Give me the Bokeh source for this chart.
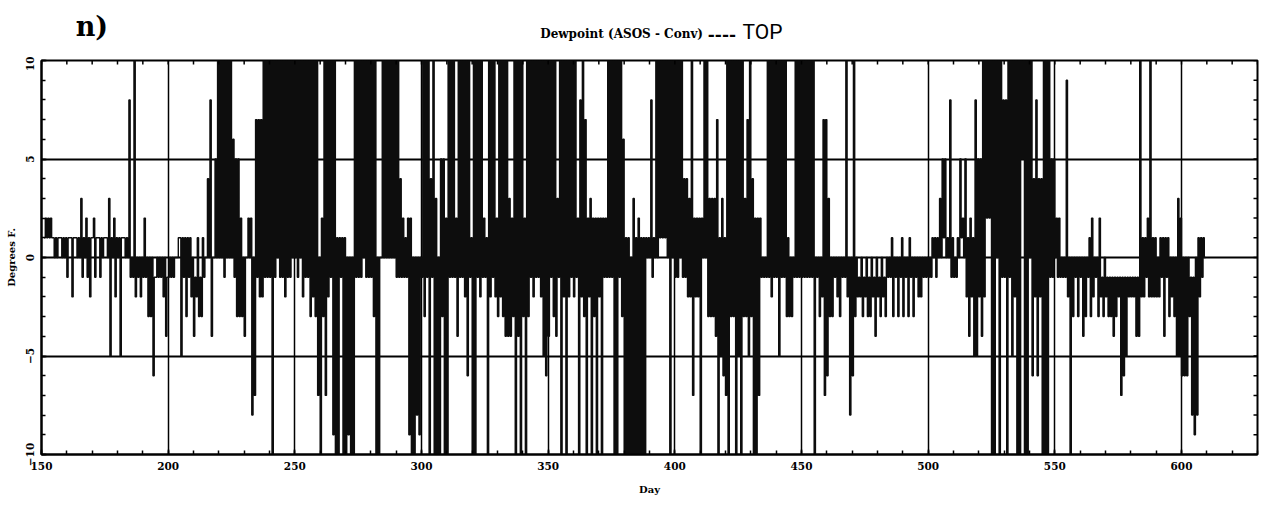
import numpy as np
from bokeh.plotting import figure
from bokeh.layouts import column
from bokeh.models import Range1d, SingleIntervalTicker, Label
from bokeh.embed import file_html
from bokeh.resources import INLINE

# ---- data: daily envelope (upper / lower) of ASOS - Conv dewpoint difference, deg F
first_day = 151
hi = [
    2, 2, 2, 1, 1, 1, 1, 1, 1, 1,
    1, 1, 1, 1, 3, 1, 2, 1, 1, 2,
    1, 1, 1, 1, 1, 3, 1, 2, 1, 1,
    1, 1, 1, 8, 0, 10, 0, 0, 0, 2,
    0, 0, 0, -1, 0, 0, 0, 0, -1, 0,
    0, 0, 0, 1, 1, 1, 1, 1, 0, -1,
    1, -1, 1, 0, 4, 8, 0, 5, 10, 10,
    10, 10, 10, 10, 6, 5, 5, 2, 0, 0,
    2, 2, 0, 7, 7, 7, 10, 10, 10, 10,
    10, 10, 10, 10, 10, 10, 10, 10, 10, 10,
    10, 10, 10, 10, 10, 10, 10, 10, 0, 2,
    10, 10, 10, 10, 10, 1, 1, 1, 1, 0,
    0, 0, 10, 10, 10, 10, 10, 10, 10, 10,
    10, 0, 0, 10, 10, 10, 10, 10, 10, 10,
    4, 2, 1, 2, 2, 0, 0, 0, 0, 10,
    10, 10, 4, 10, 3, 0, 5, 5, 2, 10,
    10, 10, 2, 10, 10, 10, 10, 10, 1, 10,
    10, 10, 10, 2, 1, 10, 10, 10, 2, 10,
    10, 10, 10, 3, 2, 10, 10, 10, 10, 2,
    10, 10, 10, 10, 10, 10, 10, 10, 10, 10,
    10, 10, 3, 10, 10, 10, 10, 10, 10, 10,
    2, 8, 10, 7, 2, 3, 2, 2, 2, 2,
    2, 2, 10, 10, 10, 10, 10, 10, 6, 1,
    1, 0, 3, 1, 2, 1, 1, 1, 1, 8,
    1, 10, 10, 10, 10, 10, 10, 10, 10, 10,
    10, 10, 4, 4, 3, 10, 2, 2, 2, 2,
    10, 10, 3, 3, 3, 7, 1, 3, 1, 10,
    10, 10, 10, 10, 10, 10, 3, 7, 10, 4,
    2, 2, 2, 0, 0, 10, 10, 10, 10, 10,
    10, 10, 10, 1, 0, 0, 10, 10, 10, 10,
    10, 10, 10, 10, 0, 0, 0, 7, 7, 3,
    0, 0, 0, 0, 0, 0, 10, 0, 0, 10,
    0, -1, 0, -1, 0, -1, 0, -1, 0, -1,
    0, -1, 0, 0, 1, 0, 0, 0, 1, 0,
    0, 1, 0, 0, 0, 0, 0, 0, 0, 0,
    1, 1, 1, 3, 5, 5, 1, 8, 1, 0,
    1, 5, 2, 5, 1, 2, 1, 8, 5, 5,
    10, 10, 10, 10, 10, 10, 10, 10, 8, 8,
    10, 10, 10, 10, 10, 10, 10, 10, 10, 10,
    4, 8, 4, 4, 10, 10, 10, 5, 5, 2,
    2, 0, 0, 9, 0, 0, 0, 0, 0, 0,
    0, 0, 1, 2, 0, 0, 2, -1, 0, -1,
    -1, -1, -1, -1, -1, -1, -1, -1, -1, -1,
    -1, -1, 10, 1, 1, 2, 10, 1, 1, 0,
    1, 1, 1, 1, 0, 0, 0, 3, 2, 0,
    0, 0, -1, -1, 0, 1, 1, 1, 0,
]
lo = [
    1, 1, 1, 1, 0, 0, 1, 0, 0, -1,
    1, -2, 1, 0, 0, -1, 0, -1, -2, 1,
    -1, 1, -1, 0, 1, 0, -5, 0, -2, 0,
    -5, 1, 0, 0, -1, -1, -2, -1, -2, -1,
    -1, -3, -3, -6, -1, -1, -1, -2, -4, -1,
    -1, -1, 0, 1, -5, -1, -3, -1, -2, -4,
    -2, -3, -3, -1, 0, 0, -4, 0, 0, 0,
    0, -1, 0, 0, 0, -1, -3, -3, -3, -4,
    0, 0, -8, -7, -1, -2, -2, -1, -1, -1,
    -10, -1, 0, -1, -1, -2, -1, -1, 0, 0,
    -1, 0, -2, -1, -1, -3, -2, -3, -7, -10,
    -3, -7, -2, -1, -9, -10, -10, -1, -10, -10,
    -9, -10, -10, -1, -1, -1, 0, -1, -1, -1,
    -3, -10, -10, 0, 0, 0, 0, 0, 0, -1,
    -1, -1, -1, -1, -9, -10, -10, -8, -9, -1,
    -3, -1, -10, -1, -10, -10, -10, -3, -10, -10,
    -1, -1, -1, -4, -1, -1, -2, -6, -1, -10,
    -10, -1, -2, -1, -1, -10, -2, -1, -2, -3,
    -2, -3, -4, -4, -4, -3, -10, -4, -10, -3,
    -10, -3, -1, -2, -1, -1, -2, -5, -6, -4,
    -1, -3, -4, -1, -10, -2, -10, -2, -1, -2,
    -1, -10, -2, -3, -10, -2, -10, -3, -10, -2,
    -10, -1, -1, -1, -1, -10, -10, -1, -3, -10,
    -10, -10, -10, -10, -10, -10, -10, -10, 0, 0,
    -1, 0, 0, 1, 1, 1, 0, -10, 0, -1,
    -1, 0, -1, -1, -2, -2, -7, -2, -2, -10,
    0, 0, -3, -3, -3, -4, -10, -5, -6, -7,
    -10, -3, -3, -10, -5, -10, -3, -3, -5, -3,
    -10, -10, -7, -1, -1, -1, -1, -2, -1, -1,
    -5, -1, -1, -3, -3, -3, -1, -1, -1, -1,
    -1, -1, -1, -1, -10, -1, -3, -2, -7, -6,
    -3, -3, -1, -2, -3, -1, -1, -2, -8, -6,
    -3, -2, -2, -3, -2, -3, -3, -2, -4, -2,
    -3, -2, -3, -1, -1, -3, -1, -3, -1, -3,
    -1, -3, -1, -3, -1, -2, -2, -1, -1, -1,
    -1, 0, -1, 0, 0, 1, 0, 0, -1, -1,
    -1, 0, 1, 0, -2, -4, -2, -5, -5, -2,
    -4, -2, 2, 2, -10, -10, 0, -10, -1, -1,
    -10, -1, -5, -2, -10, -10, 5, -10, -10, 0,
    -6, -2, -6, -2, -10, -10, -10, -1, -1, 0,
    -1, -1, -1, -1, -2, -10, -3, -1, -3, -1,
    -4, -3, -1, -3, -2, -1, -3, -2, -3, -2,
    -3, -3, -4, -3, -2, -7, -6, -5, -2, -2,
    -2, -4, -4, -2, -2, -1, -2, -2, -2, -2,
    -2, -1, -4, -1, -3, -2, -3, -5, -5, -6,
    -6, -6, -3, -8, -9, -8, -2, -1, 0,
]

panel_label = "n)"
title_text = "Dewpoint (ASOS - Conv)"
station = "TOP"

x_start, x_end = 150, 630
y_min, y_max = -10, 10
x_major, x_minor_n = 50, 5
y_major, y_minor_n = 5, 5

days = np.arange(first_day, first_day + len(hi))
xs = np.empty(2 * len(hi))
ys = np.empty(2 * len(hi))
xs[0::2] = days
xs[1::2] = days + 0.5
ys[0::2] = lo
ys[1::2] = hi

SERIF = "DejaVu Serif"
W = 1262
HEAD_H = 56
FRAME_L, FRAME_R = 41, 1257
FRAME_T, FRAME_B = 60, 454
MAIN_H = 444

# ---------------- header (titles) ----------------
head = figure(width=W, height=HEAD_H, x_range=Range1d(x_start, x_end),
              y_range=Range1d(0, HEAD_H), output_backend="svg", toolbar_location=None,
              x_axis_location=None, y_axis_location=None,
              min_border_left=FRAME_L, min_border_right=W - FRAME_R,
              min_border_top=0, min_border_bottom=0)
head.outline_line_color = None
head.grid.visible = False
head.background_fill_color = "white"
head.border_fill_color = "white"

head.add_layout(Label(x=163.5, y=HEAD_H - 26, text=panel_label, text_font=SERIF,
                      text_font_style="bold", text_font_size="27px", text_align="left",
                      text_baseline="middle", text_color="black"))
head.add_layout(Label(x=379, y=HEAD_H - 33, text=title_text, text_font=SERIF,
                      text_font_style="bold", text_font_size="12px", text_align="center",
                      text_baseline="middle", text_color="black"))
head.add_layout(Label(x=413.0, y=HEAD_H - 33, text="----", text_font=SERIF,
                      text_font_style="bold", text_font_size="17px", text_align="left",
                      text_baseline="middle", text_color="black"))
head.add_layout(Label(x=426.7, y=HEAD_H - 31, text=station, text_font="Roboto",
                      text_font_size="21px", text_align="left", text_baseline="middle",
                      text_color="black"))

# ---------------- main plot ----------------
p = figure(width=W, height=MAIN_H,
           x_range=head.x_range, y_range=Range1d(y_min, y_max),
           output_backend="svg", toolbar_location=None,
           min_border_left=FRAME_L, min_border_right=W - FRAME_R,
           min_border_top=FRAME_T - HEAD_H, min_border_bottom=MAIN_H - (FRAME_B - HEAD_H))
p.background_fill_color = "white"
p.border_fill_color = "white"
p.outline_line_color = "black"
p.outline_line_width = 2

xt = SingleIntervalTicker(interval=x_major, num_minor_ticks=x_minor_n)
yt = SingleIntervalTicker(interval=y_major, num_minor_ticks=y_minor_n)
p.xaxis.ticker = xt
p.yaxis.ticker = yt
p.xgrid.ticker = xt
p.ygrid.ticker = yt
p.xgrid.grid_line_color = "black"
p.xgrid.grid_line_width = 1.5
p.ygrid.grid_line_color = "black"
p.ygrid.grid_line_width = 2

p.step(xs, ys, mode="after", line_color="#0d0d0d", line_width=1.4)

# inward ticks on the top and right frame edges (same tick spacing as the axes)
px_per_day = (FRAME_R - FRAME_L) / (x_end - x_start)
px_per_unit = (FRAME_B - FRAME_T) / (y_max - y_min)
top_minor = np.arange(x_start, x_end + 1, x_major / x_minor_n)
p.segment(x0=top_minor, y0=y_max, x1=top_minor, y1=y_max - 4 / px_per_unit,
          line_color="black", line_width=1.5)
right_minor = np.arange(y_min, y_max + 1, y_major / y_minor_n)
p.segment(x0=x_end, y0=right_minor, x1=x_end - 4 / px_per_day, y1=right_minor,
          line_color="black", line_width=1.5)

for ax in (p.xaxis[0], p.yaxis[0]):
    ax.axis_line_color = "black"
    ax.axis_line_width = 2
    ax.major_tick_in = 5
    ax.major_tick_out = 0
    ax.minor_tick_in = 4
    ax.minor_tick_out = 0
    ax.major_tick_line_color = "black"
    ax.minor_tick_line_color = "black"
    ax.major_tick_line_width = 1.5
    ax.minor_tick_line_width = 1.5
    ax.major_label_text_font = SERIF
    ax.major_label_text_font_style = "bold"
    ax.major_label_text_font_size = "10.5px"
    ax.major_label_text_color = "black"
    ax.axis_label_text_font = SERIF
    ax.axis_label_text_font_style = "bold"
    ax.axis_label_text_font_size = "10px"
    ax.axis_label_text_color = "black"

p.xaxis.axis_label = "Day"
p.xaxis.major_label_standoff = 7
p.xaxis.axis_label_standoff = 11
p.yaxis.axis_label = "Degrees F."
p.yaxis.major_label_orientation = "vertical"
p.yaxis.major_label_standoff = 8
p.yaxis.axis_label_standoff = 6

layout = column(head, p, spacing=0)
open("out.html", "w").write(file_html(layout, INLINE))
